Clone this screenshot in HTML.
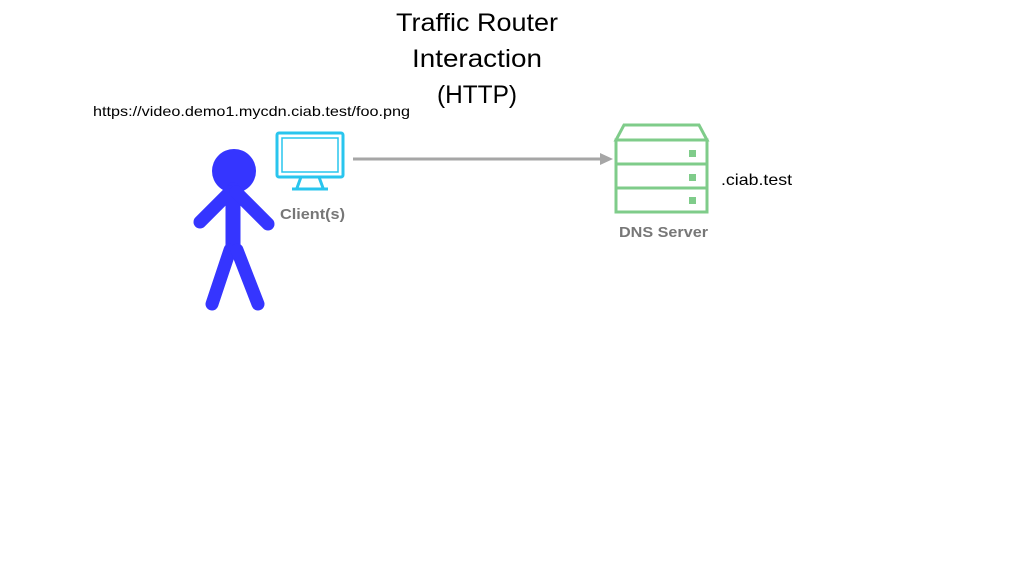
<!DOCTYPE html><html><head><style>body{margin:0;background:#fff}svg{display:block}</style></head><body>
<svg width="1024" height="576" xmlns="http://www.w3.org/2000/svg" font-family="Liberation Sans, sans-serif">
<text x="396" y="31" font-size="25" textLength="162" lengthAdjust="spacingAndGlyphs">Traffic Router</text>
<text x="412" y="67" font-size="25" textLength="130" lengthAdjust="spacingAndGlyphs">Interaction</text>
<text x="437" y="103" font-size="25" textLength="80" lengthAdjust="spacingAndGlyphs">(HTTP)</text>
<text x="93" y="116" font-size="14" textLength="317" lengthAdjust="spacingAndGlyphs">https://video.demo1.mycdn.ciab.test/foo.png</text>
<g fill="#3535ff" stroke="#3535ff" stroke-linecap="round">
<circle cx="234" cy="171" r="22" stroke="none"/>
<line x1="233" y1="190" x2="233" y2="250" stroke-width="15"/>
<line x1="230" y1="192" x2="200" y2="222" stroke-width="13"/>
<line x1="236" y1="192" x2="268" y2="224" stroke-width="13"/>
<line x1="230" y1="250" x2="212" y2="304" stroke-width="13"/>
<line x1="237" y1="250" x2="258" y2="304" stroke-width="13"/>
</g>
<g stroke="#29c5ee" fill="none" stroke-width="3">
<rect x="277" y="133" width="66" height="44" rx="2"/>
<rect x="282" y="138" width="56" height="34" stroke-width="1.5"/>
<line x1="301" y1="177" x2="297" y2="188"/><line x1="319" y1="177" x2="323" y2="188"/>
<line x1="292" y1="189" x2="328" y2="189"/>
</g>
<text x="280" y="219" font-size="15" font-weight="bold" fill="#777" textLength="65" lengthAdjust="spacingAndGlyphs">Client(s)</text>
<line x1="353" y1="159" x2="602" y2="159" stroke="#a6a6a6" stroke-width="3"/>
<polygon points="600,153 613,159 600,165" fill="#a6a6a6"/>
<g stroke="#7fcc8a" fill="none" stroke-width="3">
<polygon points="624,125 699,125 707,140 616,140"/>
<rect x="616" y="140" width="91" height="72"/>
<line x1="616" y1="164" x2="707" y2="164"/><line x1="616" y1="188" x2="707" y2="188"/>
</g>
<g fill="#7fcc8a"><rect x="689" y="150" width="7" height="7"/><rect x="689" y="174" width="7" height="7"/><rect x="689" y="197" width="7" height="7"/></g>
<text x="721" y="185" font-size="16" textLength="71" lengthAdjust="spacingAndGlyphs">.ciab.test</text>
<text x="619" y="237" font-size="15" font-weight="bold" fill="#777" textLength="89" lengthAdjust="spacingAndGlyphs">DNS Server</text>
</svg></body></html>
